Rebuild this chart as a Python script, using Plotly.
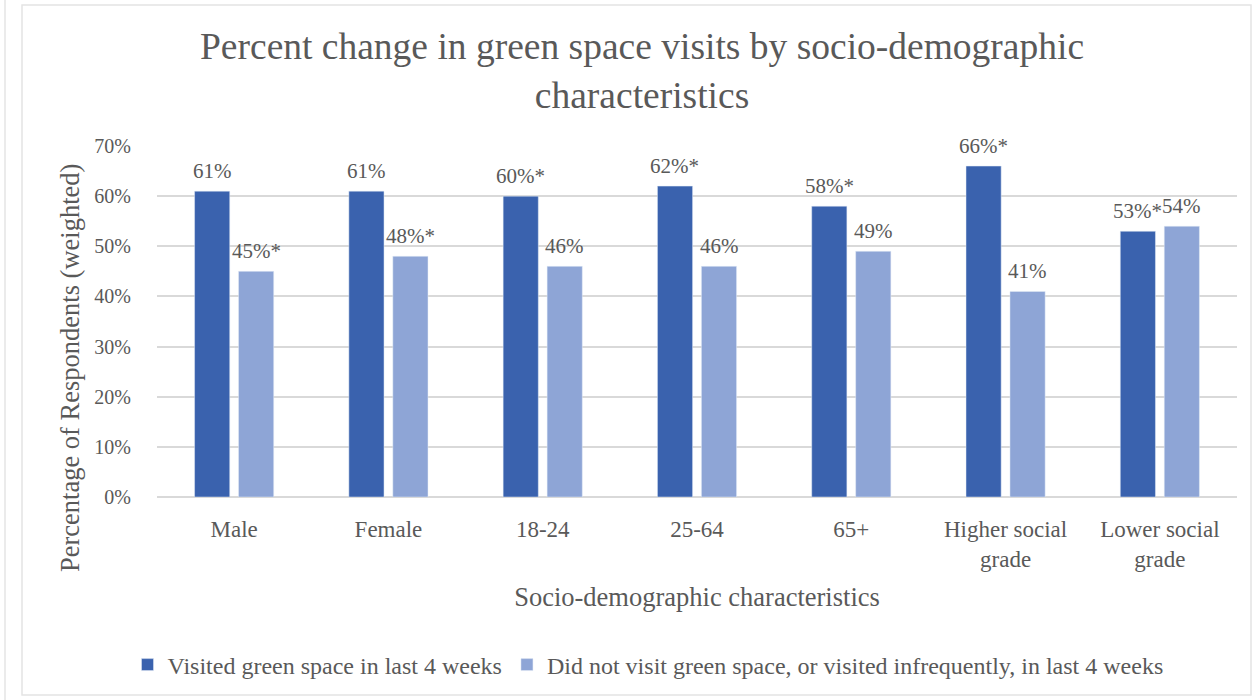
import plotly.graph_objects as go

# Survey groups and weighted shares of respondents
categories = ["Male", "Female", "18-24", "25-64", "65+",
              "Higher social<br>grade", "Lower social<br>grade"]
visited = [0.61, 0.61, 0.60, 0.62, 0.58, 0.66, 0.53]
not_visited = [0.45, 0.48, 0.46, 0.46, 0.49, 0.41, 0.54]
# significance markers appended to the value labels
visited_mark = ["", "", "*", "*", "*", "*", "*"]
not_visited_mark = ["*", "*", "", "", "", "", ""]

series_names = ["Visited green space in last 4 weeks",
                "Did not visit green space, or visited infrequently, in last 4 weeks"]
y_ticks = [0, 0.1, 0.2, 0.3, 0.4, 0.5, 0.6, 0.7]

DARK = "#3A62AE"
LIGHT = "#8EA5D6"
TEXT = "#595959"
FONT = "Liberation Serif"

W, H = 1255, 700
L, R, T, B = 157, 18, 146, 203
PW, PH = W - L - R, H - T - B


def px_x(px):
    return (px - L) / PW


def px_y(py):
    return (H - B - py) / PH


fig = go.Figure()
fig.add_trace(go.Bar(x=categories, y=visited, name=series_names[0],
                     marker_color=DARK))
fig.add_trace(go.Bar(x=categories, y=not_visited, name=series_names[1],
                     marker_color=LIGHT))

annotations = []
# value labels above each bar, offset to the bar's slot in the group
for vals, marks, off in ((visited, visited_mark, -0.143), (not_visited, not_visited_mark, 0.143)):
    for i, (v, m) in enumerate(zip(vals, marks)):
        annotations.append(dict(
            x=i + off, y=v, xref="x", yref="y",
            text=f"{round(v * 100)}%{m}", showarrow=False,
            yanchor="bottom", yshift=6,
            font=dict(family=FONT, size=21, color=TEXT)))

annotations.append(dict(
    x=px_x(642), y=px_y(24), xref="paper", yref="paper",
    text="Percent change in green space visits by socio-demographic<br>characteristics",
    showarrow=False, xanchor="center", yanchor="top", align="center",
    font=dict(family=FONT, size=37.5, color=TEXT)))
annotations.append(dict(
    x=px_x(70), y=px_y(368), xref="paper", yref="paper",
    text="Percentage of Respondents (weighted)", textangle=-90,
    showarrow=False, xanchor="center", yanchor="middle",
    font=dict(family=FONT, size=26.5, color=TEXT)))

fig.update_layout(
    width=W, height=H,
    margin=dict(l=L, r=R, t=T, b=B),
    paper_bgcolor="white", plot_bgcolor="white",
    barmode="group", bargap=0.43, bargroupgap=0.2,
    font=dict(family=FONT, color=TEXT),
    annotations=annotations,
    legend=dict(orientation="h", x=px_x(648), xanchor="center",
                y=px_y(665), yanchor="middle",
                font=dict(family=FONT, size=24, color=TEXT),
                itemclick=False),
    shapes=[
        dict(type="rect", xref="paper", yref="paper",
             x0=px_x(22), x1=px_x(1251), y0=px_y(695), y1=px_y(5),
             line=dict(color="#E4E4E4", width=1.5), layer="below"),
        dict(type="line", xref="paper", yref="paper",
             x0=px_x(5), x1=px_x(5), y0=px_y(700), y1=px_y(0),
             line=dict(color="#E4E4E4", width=1.5), layer="below"),
    ],
)
fig.update_xaxes(
    showline=False, showgrid=False, ticks="",
    ticklabelstandoff=16,
    tickfont=dict(family=FONT, size=23, color=TEXT),
    title=dict(text="Socio-demographic characteristics",
               font=dict(family=FONT, size=26.5, color=TEXT), standoff=16),
)
fig.update_yaxes(
    range=[0, 0.7], tickvals=y_ticks, tickformat=".0%",
    showgrid=True, gridcolor="#D9D9D9", gridwidth=1.5,
    zeroline=True, zerolinecolor="#D9D9D9", zerolinewidth=1.5,
    showline=False, ticks="", ticklabelstandoff=25,
    tickfont=dict(family=FONT, size=20, color=TEXT),
)

fig.write_html("out.html")
